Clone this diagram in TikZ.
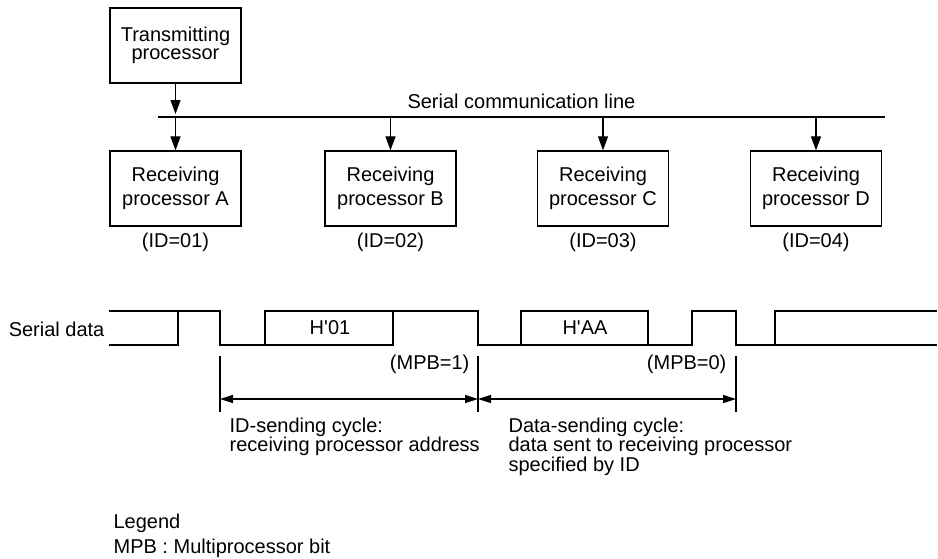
\documentclass[tikz,border=0pt]{standalone}
\usepackage{fontspec}
\setmainfont{Liberation Sans}
\usetikzlibrary{arrows.meta}
\begin{document}
\begin{tikzpicture}[x=1pt,y=-1pt,
  font=\fontsize{20}{23}\selectfont,
  line width=1.2pt,
  box/.style={draw, line width=1.3pt, minimum width=131pt, minimum height=75pt, align=center, inner sep=0pt, font=\fontsize{20}{24}\selectfont},
  arr/.style={-{Triangle[length=14pt,width=10pt]}},
  dimarr/.style={{Triangle[length=13pt,width=8pt]}-{Triangle[length=13pt,width=8pt]}},
  lbl/.style={inner sep=0pt},
  para/.style={inner sep=0pt, anchor=north west, align=left, font=\fontsize{20}{19.5}\selectfont}]
\useasboundingbox (0,0) rectangle (938,558);

% processors
\node[box, font=\fontsize{20}{18.5}\selectfont] (T) at (175.5,45.5) {Transmitting\\processor};
\node[box] (A) at (175.5,188.5) {Receiving\\processor A};
\node[box] (B) at (390.5,188.5) {Receiving\\processor B};
\node[box] (C) at (603,188.5) {Receiving\\processor C};
\node[box] (D) at (816,188.5) {Receiving\\processor D};

% serial communication line
\coordinate (L1) at (158,117);
\coordinate (L2) at (885,117);
\draw (L1) -- (L2);
\node[lbl, anchor=base east] (SCL) at (636,108) {Serial communication line};

\draw[arr, shorten >=3pt] (T.south) -- (T.south |- L1);
\draw[arr] (A.north |- L1) -- (A.north);
\draw[arr] (B.north |- L1) -- (B.north);
\draw[arr] (C.north |- L1) -- (C.north);
\draw[arr] (D.north |- L1) -- (D.north);

\node[lbl, anchor=base] (IDA) at ([yshift=-21pt]A.south) {(ID=01)};
\node[lbl, anchor=base] (IDB) at ([yshift=-21pt]B.south) {(ID=02)};
\node[lbl, anchor=base] (IDC) at ([yshift=-21pt]C.south) {(ID=03)};
\node[lbl, anchor=base] (IDD) at ([yshift=-21pt]D.south) {(ID=04)};

% serial data waveform
\node[lbl, anchor=base east] (SD) at (105,336) {Serial data};
\draw (109,311) -- (220,311) -- (220,345) -- (265,345) -- (265,311) -- (478,311) -- (478,345)
  -- (521,345) -- (521,311) -- (648,311) -- (648,345) -- (692,345) -- (692,311) -- (736,311)
  -- (736,345) -- (775,345) -- (775,311) -- (937,311);
\draw (109,345) -- (178,345) -- (178,311);
\draw (265,345) -- (393,345) -- (393,311);
\draw (521,345) -- (648,345);
\draw (775,345) -- (937,345);
\node[lbl] (H01) at (330,328) {H\textquotesingle 01};
\node[lbl] (HAA) at (585,328) {H\textquotesingle AA};
\node[lbl, anchor=base east] (M1) at (470,369) {(MPB=1)};
\node[lbl, anchor=base east] (M0) at (727,369) {(MPB=0)};

% cycle markers
\coordinate (k1a) at (220,356); \coordinate (k1b) at (220,412);
\coordinate (k2a) at (478,356); \coordinate (k2b) at (478,412);
\coordinate (k3a) at (736,356); \coordinate (k3b) at (736,412);
\draw (k1a) -- (k1b);
\draw (k2a) -- (k2b);
\draw (k3a) -- (k3b);
\coordinate (d1) at (220,399);
\coordinate (d2) at (478,399);
\coordinate (d3) at (736,399);
\draw[dimarr] (d1) -- (d2);
\draw[dimarr] (d2) -- (d3);

\node[para] (IDS) at (229,417) {ID-sending cycle:\\receiving processor address};
\node[para] (DS) at (508,417) {Data-sending cycle:\\data sent to receiving processor\\specified by ID};

% legend
\node[para, font=\fontsize{20}{25}\selectfont] (LEG) at (113,513) {Legend\\MPB : Multiprocessor bit};
\end{tikzpicture}
\end{document}
